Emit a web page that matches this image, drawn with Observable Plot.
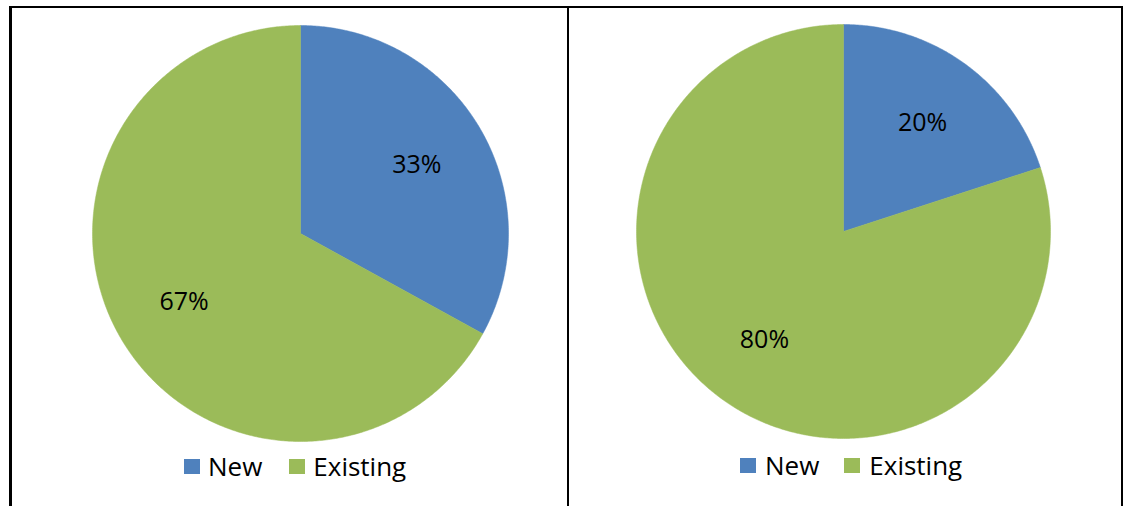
<!DOCTYPE html>
<html>
<head>
<meta charset="utf-8">
<script src="https://cdn.jsdelivr.net/npm/d3@7"></script>
<script src="https://cdn.jsdelivr.net/npm/@observablehq/plot@0.6"></script>
<style>
  html, body { margin: 0; padding: 0; background: #fff; }
  #root { position: relative; width: 1124px; height: 506px; overflow: hidden; font-family: "Open Sans", sans-serif; }
  .line { position: absolute; background: #000; }
  .panel { position: absolute; top: 0; }
  .legend { position: absolute; display: flex; align-items: center; font-size: 26px; color: #000; white-space: nowrap; }
  .sw { display: inline-block; width: 16px; height: 15px; }
</style>
</head>
<body>
<div id="root">
  <div class="line" style="left:9px;top:6px;width:1114px;height:2px;"></div>
  <div class="line" style="left:9px;top:6px;width:2.5px;height:500px;"></div>
  <div class="line" style="left:566.5px;top:6px;width:2.5px;height:500px;"></div>
  <div class="line" style="left:1120.5px;top:6px;width:2px;height:500px;"></div>
  <div id="left" class="panel" style="left:0px;"></div>
  <div id="right" class="panel" style="left:568px;"></div>
  <div id="legendL" class="legend" style="left:184px;top:448px;"></div>
  <div id="legendR" class="legend" style="left:740px;top:447px;"></div>
</div>
<script>
const categories = ["New", "Existing"];
const leftValues = [33, 67];
const rightValues = [20, 80];
const colors = ["#4F81BD", "#9BBB59"];

function pieData(values) {
  const arcs = d3.pie().sort(null)(values);
  const pts = [];
  const labels = [];
  const total = d3.sum(values);
  arcs.forEach((a, i) => {
    const key = categories[i];
    pts.push({key, x: 0, y: 0});
    const n = Math.max(2, Math.ceil((a.endAngle - a.startAngle) / (Math.PI / 360)));
    for (let j = 0; j <= n; j++) {
      const t = a.startAngle + (a.endAngle - a.startAngle) * j / n;
      pts.push({key, x: Math.sin(t), y: Math.cos(t)});
    }
    pts.push({key, x: 0, y: 0});
    const mid = (a.startAngle + a.endAngle) / 2;
    labels.push({key, x: 0.65 * Math.sin(mid), y: 0.65 * Math.cos(mid), text: Math.round(values[i] / total * 100) + "%"});
  });
  return {pts, labels};
}

function pie(values, width, cx, cy, r) {
  const {pts, labels} = pieData(values);
  return Plot.plot({
    width, height: 506, margin: 0,
    style: {fontFamily: "'Open Sans', sans-serif", background: "transparent"},
    x: {domain: [-1, 1], range: [cx - r, cx + r], axis: null},
    y: {domain: [-1, 1], range: [cy + r, cy - r], axis: null},
    color: {domain: categories, range: colors},
    marks: [
      Plot.line(pts, {x: "x", y: "y", z: "key", fill: "key", stroke: "key", strokeWidth: 0.5}),
      Plot.text(labels, {x: "x", y: "y", text: "text", fontSize: 25, fill: "#000"})
    ]
  });
}

document.getElementById("left").appendChild(pie(leftValues, 566, 300, 233, 208));
document.getElementById("right").appendChild(pie(rightValues, 552, 275, 231, 207));

function legend(el, gapText, gapItem) {
  categories.forEach((c, i) => {
    const sw = document.createElement("span");
    sw.className = "sw";
    sw.style.background = colors[i];
    sw.style.marginRight = gapText + "px";
    if (i > 0) sw.style.marginLeft = gapItem + "px";
    el.appendChild(sw);
    const t = document.createElement("span");
    t.textContent = c;
    el.appendChild(t);
  });
}
legend(document.getElementById("legendL"), 8, 27);
legend(document.getElementById("legendR"), 9, 25);
</script>
</body>
</html>
